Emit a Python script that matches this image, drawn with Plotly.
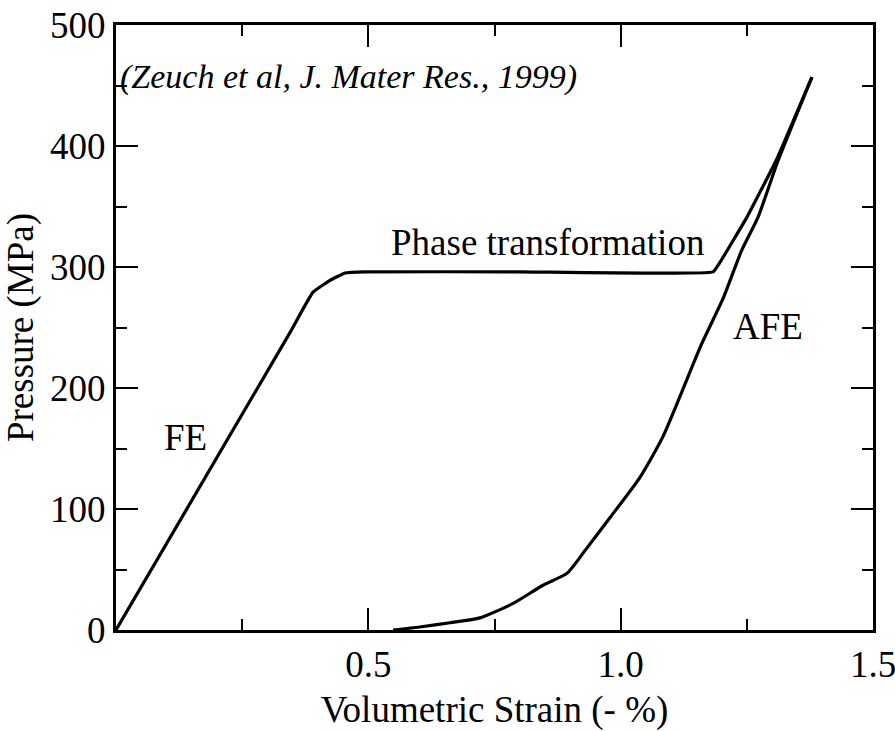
import plotly.graph_objects as go

# Loading branch (FE -> phase transformation -> AFE)
load_x = [0.0, 0.345, 0.390, 0.424, 0.454, 0.493, 0.800, 1.183, 1.197, 1.250, 1.308, 1.379]
load_y = [0.0, 246, 279, 289, 295, 296, 296, 296, 304, 341, 388, 457]

# Unloading branch (AFE)
unload_x = [1.379, 1.312, 1.272, 1.240, 1.203, 1.160, 1.084, 1.038, 0.979, 0.930,
            0.894, 0.846, 0.787, 0.721, 0.662, 0.602, 0.549]
unload_y = [457, 388, 341, 314, 274, 236, 160, 126, 93, 66,
            47, 37, 22, 10, 6, 2.5, 0]

x_tickvals = [0.5, 1.0, 1.5]
x_ticktext = ["0.5", "1.0", "1.5"]
y_tickvals = [0, 100, 200, 300, 400, 500]
y_ticktext = ["0", "100", "200", "300", "400", "500"]

labels = [
    ("FE", 0.137, 159),
    ("Phase transformation", 0.856, 320),
    ("AFE", 1.292, 251),
]
citation = "(Zeuch et al, J. Mater Res., 1999)"

FONT = "Liberation Serif"
FS = 37

fig = go.Figure()
fig.add_trace(go.Scatter(x=load_x, y=load_y, mode="lines",
                         line=dict(color="black", width=3.2, shape="spline", smoothing=0.3),
                         showlegend=False))
fig.add_trace(go.Scatter(x=unload_x, y=unload_y, mode="lines",
                         line=dict(color="black", width=3.2, shape="spline", smoothing=0.6),
                         showlegend=False))

for txt, x, y in labels:
    fig.add_annotation(x=x, y=y, text=txt, showarrow=False,
                       font=dict(family=FONT, size=FS, color="black"))
fig.add_annotation(x=0.004, y=457, text="<i>" + citation + "</i>", showarrow=False,
                   xanchor="left", font=dict(family=FONT, size=34, color="black"))

axis_common = dict(showgrid=False, zeroline=False, showline=True, linecolor="black",
                   linewidth=3, mirror="allticks", ticks="inside", ticklen=22,
                   tickwidth=2, tickcolor="black", automargin=False,
                   ticklabeloverflow="allow",
                   tickfont=dict(family=FONT, size=FS, color="black"))

fig.update_xaxes(range=[0, 1.5], tickmode="array", tickvals=x_tickvals, ticktext=x_ticktext,
                 minor=dict(ticks="inside", ticklen=11, tickwidth=2, tickcolor="black",
                            tickvals=[0.25, 0.75, 1.25]),
                 title=dict(text="Volumetric Strain (- %)", font=dict(family=FONT, size=FS, color="black"),
                            standoff=16),
                 **axis_common)
fig.update_yaxes(range=[0, 500], tickmode="array", tickvals=y_tickvals, ticktext=y_ticktext,
                 minor=dict(ticks="inside", ticklen=11, tickwidth=2, tickcolor="black",
                            tickvals=[50, 150, 250, 350, 450]),
                 title=dict(text="Pressure (MPa)", font=dict(family=FONT, size=FS, color="black"),
                            standoff=6),
                 **axis_common)

fig.update_layout(width=895, height=731, margin=dict(l=116, r=22, t=25, b=101),
                  plot_bgcolor="white", paper_bgcolor="white")

fig.write_html("out.html")
